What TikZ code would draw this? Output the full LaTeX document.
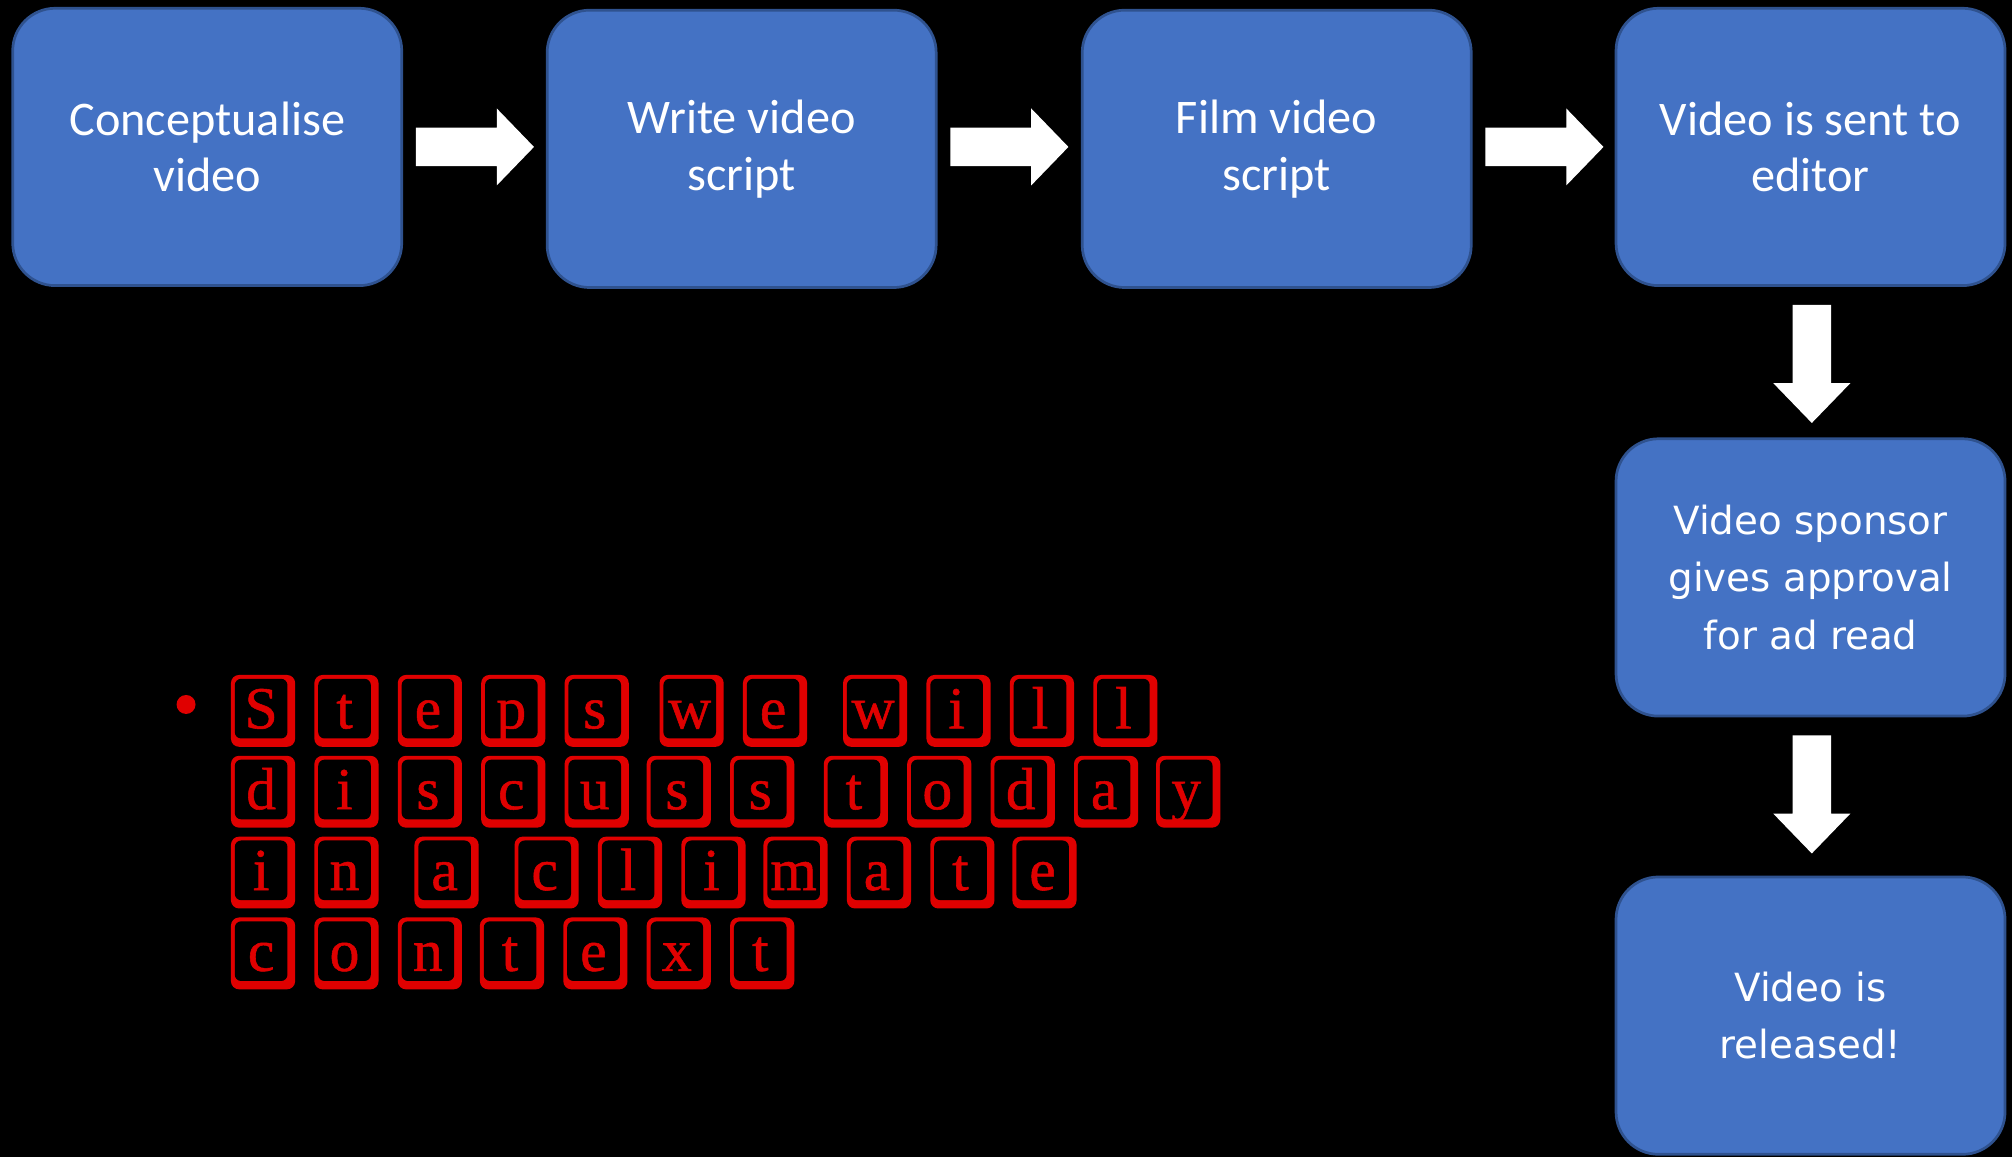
\documentclass[tikz,border=0pt]{standalone}
\usepackage{fontspec}
\usetikzlibrary{calc}
\newfontfamily\boxfont{Carlito}
\newfontfamily\widefont{DejaVu Sans}
\newfontfamily\keyfont{Liberation Serif}[FakeBold=0.9]
\definecolor{boxblue}{RGB}{68,114,196}
\definecolor{boxedge}{RGB}{47,82,143}
\definecolor{keyred}{RGB}{224,0,0}
\tikzset{
  stepbox/.style={draw=boxedge, line width=0.6pt, fill=boxblue, rounded corners=9.4pt,
    minimum width=3.03cm, minimum height=2.16cm, inner sep=0pt, align=center,
    text=white, font=\boxfont\fontsize{10.7}{12.6}\selectfont},
  widebox/.style={stepbox, font=\widefont\fontsize{8.6}{12.8}\selectfont},
  keyletter/.style={text=keyred, inner sep=0pt, font=\keyfont\fontsize{13.2}{14}\selectfont},
  rarr/.pic={\fill[white] (0,-15) -- (63,-15) -- (63,-30) -- (92,0) -- (63,30) -- (63,15) -- (0,15) -- cycle;},
  darr/.pic={\fill[white] (-15,0) -- (-15,61) -- (-30,61) -- (0,92) -- (30,61) -- (15,61) -- (15,0) -- cycle;}
}
\newcommand\keytile[4]{%
  \fill[keyred, rounded corners=1.8pt] (#1,#2) rectangle (#1+50,#2+56);
  \fill[black, rounded corners=1.4pt] (#1+3,#2+3) rectangle (#1+44,#2+49.5);
  \node[keyletter, anchor=base] (#4) at (#1+23.5,#2+41.6) {#3};
}
\begin{document}
\begin{tikzpicture}[x=0.01cm, y=-0.01cm]
\useasboundingbox (0,0) rectangle (1568,902);
\fill[black] (0,0) rectangle (1568,902);

\node[stepbox] (b1) at (161.5,114.5) {Conceptualise\\video};
\node[stepbox] (b2) at (578,116) {Write video\\script};
\node[stepbox] (b3) at (995,116) {Film video\\script};
\node[stepbox] (b4) at (1411,114.5) {Video is sent to\\editor};
\node[widebox] (b5) at (1411,450) {Video sponsor\\gives approval\\for ad read};
\node[widebox] (b6) at (1411,791.5) {Video is\\released!};

\path ($(b1.east)+(10,0)$) pic {rarr};
\path ($(b2.east)+(10,-1.5)$) pic {rarr};
\path ($(b3.east)+(10,-1.5)$) pic {rarr};
\path ($(b4.south)+(1,14)$) pic {darr};
\path ($(b5.south)+(1,14)$) pic {darr};

\node[circle, fill=keyred, minimum size=4.2pt, inner sep=0pt] (bullet) at (145,549) {};

% row 1
\keytile{180}{526}{S}{k11}
\keytile{245}{526}{t}{k12}
\keytile{310}{526}{e}{k13}
\keytile{375}{526}{p}{k14}
\keytile{440}{526}{s}{k15}
\keytile{514}{526}{w}{k16}
\keytile{579}{526}{e}{k17}
\keytile{657}{526}{w}{k18}
\keytile{722}{526}{i}{k19}
\keytile{787}{526}{l}{k110}
\keytile{852}{526}{l}{k111}
% row 2
\keytile{180}{589}{d}{k21}
\keytile{245}{589}{i}{k22}
\keytile{310}{589}{s}{k23}
\keytile{375}{589}{c}{k24}
\keytile{440}{589}{u}{k25}
\keytile{504}{589}{s}{k26}
\keytile{569}{589}{s}{k27}
\keytile{642}{589}{t}{k28}
\keytile{707}{589}{o}{k29}
\keytile{772}{589}{d}{k210}
\keytile{837}{589}{a}{k211}
\keytile{901}{589}{y}{k212}
% row 3
\keytile{180}{652}{i}{k31}
\keytile{245}{652}{n}{k32}
\keytile{323}{652}{a}{k33}
\keytile{401}{652}{c}{k34}
\keytile{466}{652}{l}{k35}
\keytile{531}{652}{i}{k36}
\keytile{595}{652}{m}{k37}
\keytile{660}{652}{a}{k38}
\keytile{725}{652}{t}{k39}
\keytile{789}{652}{e}{k310}
% row 4
\keytile{180}{715}{c}{k41}
\keytile{245}{715}{o}{k42}
\keytile{310}{715}{n}{k43}
\keytile{374}{715}{t}{k44}
\keytile{439}{715}{e}{k45}
\keytile{504}{715}{x}{k46}
\keytile{569}{715}{t}{k47}
\end{tikzpicture}
\end{document}
